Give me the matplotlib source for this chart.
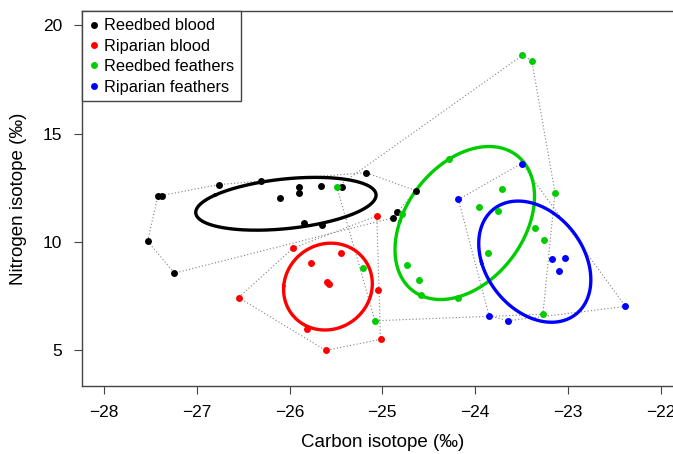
import numpy as np
import matplotlib
matplotlib.use("Agg")
import matplotlib.pyplot as plt

plt.rcParams['font.family'] = ['Liberation Sans', 'DejaVu Sans']

# data (carbon, nitrogen isotope values)
reedbed_blood_c = [-27.42, -27.38, -26.76, -26.31, -26.10, -25.90, -25.90, -25.66, -25.43,
                   -25.18, -25.84, -25.65, -27.53, -27.24, -24.84, -24.89, -24.64]
reedbed_blood_n = [12.11, 12.11, 12.65, 12.80, 12.05, 12.54, 12.26, 12.57, 12.54,
                   13.20, 10.89, 10.77, 10.03, 8.56, 11.38, 11.11, 12.37]

riparian_blood_c = [-25.06, -25.96, -25.45, -25.77, -25.60, -25.57, -25.05, -26.55,
                    -25.81, -25.61, -25.02]
riparian_blood_n = [11.20, 9.72, 9.51, 9.02, 8.13, 8.05, 7.76, 7.43, 6.00, 4.99, 5.50]

reedbed_feath_c = [-25.49, -25.21, -25.08, -24.79, -24.73, -23.49, -23.39, -24.28, -23.71,
                   -23.14, -23.96, -23.75, -23.36, -23.26, -23.86, -24.60, -24.58, -24.18,
                   -23.27]
reedbed_feath_n = [12.54, 8.79, 6.36, 11.27, 8.92, 18.62, 18.37, 13.82, 12.45,
                   12.28, 11.63, 11.45, 10.66, 10.08, 9.51, 8.25, 7.53, 7.39, 6.66]

riparian_feath_c = [-23.50, -24.18, -23.17, -23.03, -23.10, -22.38, -23.85, -23.65]
riparian_feath_n = [13.62, 11.96, 9.22, 9.28, 8.66, 7.02, 6.59, 6.36]

groups = ["Reedbed blood", "Riparian blood", "Reedbed feathers", "Riparian feathers"]
colors = ["black", "#ff0000", "#00cd00", "#0000ff"]
xs = [reedbed_blood_c, riparian_blood_c, reedbed_feath_c, riparian_feath_c]
ys = [reedbed_blood_n, riparian_blood_n, reedbed_feath_n, riparian_feath_n]


def convex_hull(pts):
    pts = sorted(set(pts))
    def cross(o, a, b):
        return (a[0] - o[0]) * (b[1] - o[1]) - (a[1] - o[1]) * (b[0] - o[0])
    lower, upper = [], []
    for p in pts:
        while len(lower) >= 2 and cross(lower[-2], lower[-1], p) <= 0:
            lower.pop()
        lower.append(p)
    for p in reversed(pts):
        while len(upper) >= 2 and cross(upper[-2], upper[-1], p) <= 0:
            upper.pop()
        upper.append(p)
    return lower[:-1] + upper[:-1]


def sea_ellipse(x, y, npts=200):
    # small-sample corrected standard ellipse (SEAc)
    x = np.asarray(x); y = np.asarray(y)
    n = len(x)
    sig = np.cov(x, y) * (n - 1) / (n - 2)
    vals, vecs = np.linalg.eigh(sig)
    t = np.linspace(0, 2 * np.pi, npts)
    circ = np.vstack([np.cos(t), np.sin(t)])
    e = vecs @ np.diag(np.sqrt(vals)) @ circ
    return x.mean() + e[0], y.mean() + e[1]


fig = plt.figure(figsize=(6.73, 4.54), dpi=100)
ax = fig.add_axes([0.1214, 0.1504, 0.8935, 0.8243])

for x, y, c in zip(xs, ys, colors):
    hull = convex_hull(list(zip(x, y)))
    hull.append(hull[0])
    hx, hy = zip(*hull)
    ax.plot(hx, hy, ls=(0, (1, 2)), color="#808080", lw=0.8, zorder=1)

for x, y, c in zip(xs, ys, colors):
    ex, ey = sea_ellipse(x, y)
    ax.plot(ex, ey, color=c, lw=2.4, zorder=2)

for x, y, c, g in zip(xs, ys, colors, groups):
    ax.plot(x, y, 'o', color=c, ms=5, mec='none', label=g, zorder=3)

ax.set_xlim(-28.24, -21.76)
ax.set_ylim(3.36, 20.64)
ax.set_xticks([-28, -27, -26, -25, -24, -23, -22])
ax.set_yticks([5, 10, 15, 20])
ax.tick_params(direction='out', length=6, width=0.8, color='#444444',
               labelsize=12.5, pad=8)
for s in ax.spines.values():
    s.set_color('#444444')
    s.set_linewidth(1)

ax.set_xlabel("Carbon isotope (‰)", fontsize=13.5, labelpad=10)
ax.set_ylabel("Nitrogen isotope (‰)", fontsize=13.5, labelpad=11)

leg = ax.legend(loc='upper left', borderaxespad=0, fontsize=11.8, fancybox=False,
                handlelength=0.6, handletextpad=0.35, labelspacing=0.33,
                borderpad=0.42, framealpha=1)
leg.get_frame().set_edgecolor('#444444')
leg.get_frame().set_linewidth(1)

fig.savefig("out.png", dpi=100)
